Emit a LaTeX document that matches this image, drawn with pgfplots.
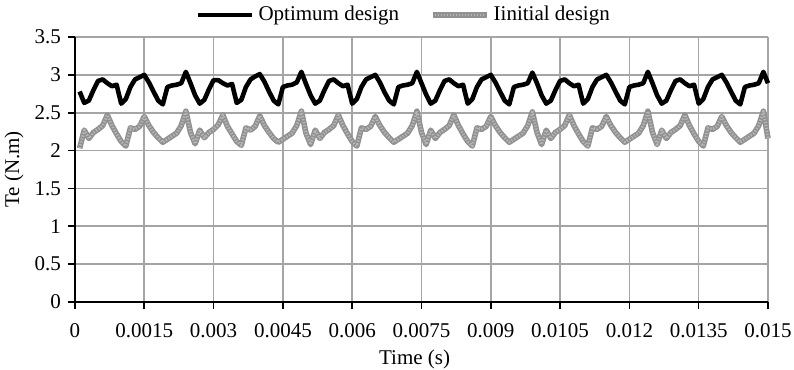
\documentclass[border=0pt]{standalone}
\usepackage{fontspec}
\setmainfont{Liberation Serif}
\usepackage{pgfplots}
\pgfplotsset{compat=1.18}
\definecolor{gridgray}{RGB}{165,165,165}
\definecolor{initgray}{RGB}{145,145,145}
\pgfplotstableread{
t v
0.0001 2.78
0.0002 2.63
0.0003 2.66
0.0004 2.80
0.0005 2.92
0.0006 2.94
0.0007 2.89
0.0008 2.85
0.0009 2.87
0.0010 2.62
0.0011 2.68
0.0012 2.84
0.0013 2.94
0.0014 2.97
0.0015 3.00
0.0016 2.90
0.0017 2.78
0.0018 2.66
0.0019 2.61
0.0020 2.84
0.0021 2.86
0.0022 2.87
0.0023 2.89
0.0024 3.04
0.0025 2.89
0.0026 2.73
0.0027 2.62
0.0028 2.67
0.0029 2.81
0.0030 2.93
0.0031 2.93
0.0032 2.89
0.0033 2.86
0.0034 2.88
0.0035 2.63
0.0036 2.67
0.0037 2.84
0.0038 2.94
0.0039 2.98
0.0040 3.01
0.0041 2.91
0.0042 2.78
0.0043 2.66
0.0044 2.61
0.0045 2.84
0.0046 2.86
0.0047 2.87
0.0048 2.90
0.0049 3.04
0.0050 2.88
0.0051 2.73
0.0052 2.62
0.0053 2.66
0.0054 2.80
0.0055 2.92
0.0056 2.94
0.0057 2.89
0.0058 2.85
0.0059 2.87
0.0060 2.62
0.0061 2.68
0.0062 2.84
0.0063 2.94
0.0064 2.97
0.0065 3.00
0.0066 2.90
0.0067 2.77
0.0068 2.66
0.0069 2.61
0.0070 2.84
0.0071 2.86
0.0072 2.87
0.0073 2.89
0.0074 3.04
0.0075 2.89
0.0076 2.74
0.0077 2.62
0.0078 2.66
0.0079 2.80
0.0080 2.92
0.0081 2.94
0.0082 2.89
0.0083 2.85
0.0084 2.87
0.0085 2.62
0.0086 2.68
0.0087 2.84
0.0088 2.94
0.0089 2.97
0.0090 3.00
0.0091 2.90
0.0092 2.78
0.0093 2.66
0.0094 2.61
0.0095 2.84
0.0096 2.86
0.0097 2.87
0.0098 2.89
0.0099 3.03
0.0100 2.89
0.0101 2.73
0.0102 2.62
0.0103 2.66
0.0104 2.80
0.0105 2.92
0.0106 2.94
0.0107 2.89
0.0108 2.85
0.0109 2.87
0.0110 2.62
0.0111 2.68
0.0112 2.84
0.0113 2.94
0.0114 2.97
0.0115 3.00
0.0116 2.90
0.0117 2.78
0.0118 2.66
0.0119 2.61
0.0120 2.84
0.0121 2.86
0.0122 2.87
0.0123 2.89
0.0124 3.04
0.0125 2.89
0.0126 2.73
0.0127 2.62
0.0128 2.66
0.0129 2.80
0.0130 2.92
0.0131 2.94
0.0132 2.89
0.0133 2.85
0.0134 2.87
0.0135 2.62
0.0136 2.68
0.0137 2.84
0.0138 2.94
0.0139 2.97
0.0140 3.00
0.0141 2.90
0.0142 2.78
0.0143 2.66
0.0144 2.61
0.0145 2.84
0.0146 2.86
0.0147 2.87
0.0148 2.89
0.0149 3.04
0.0150 2.89
}\optimum
\pgfplotstableread{
t v
0.0001 2.03
0.0002 2.27
0.0003 2.16
0.0004 2.24
0.0005 2.28
0.0006 2.33
0.0007 2.47
0.0008 2.33
0.0009 2.22
0.0010 2.12
0.0011 2.06
0.0012 2.30
0.0013 2.28
0.0014 2.32
0.0015 2.45
0.0016 2.33
0.0017 2.24
0.0018 2.17
0.0019 2.11
0.0020 2.15
0.0021 2.19
0.0022 2.23
0.0023 2.33
0.0024 2.52
0.0025 2.24
0.0026 2.09
0.0027 2.27
0.0028 2.17
0.0029 2.24
0.0030 2.28
0.0031 2.34
0.0032 2.47
0.0033 2.32
0.0034 2.22
0.0035 2.12
0.0036 2.07
0.0037 2.30
0.0038 2.27
0.0039 2.32
0.0040 2.46
0.0041 2.33
0.0042 2.24
0.0043 2.16
0.0044 2.11
0.0045 2.15
0.0046 2.19
0.0047 2.23
0.0048 2.33
0.0049 2.52
0.0050 2.23
0.0051 2.08
0.0052 2.27
0.0053 2.16
0.0054 2.24
0.0055 2.28
0.0056 2.33
0.0057 2.47
0.0058 2.33
0.0059 2.22
0.0060 2.12
0.0061 2.06
0.0062 2.30
0.0063 2.28
0.0064 2.32
0.0065 2.45
0.0066 2.33
0.0067 2.24
0.0068 2.17
0.0069 2.11
0.0070 2.15
0.0071 2.19
0.0072 2.23
0.0073 2.33
0.0074 2.52
0.0075 2.24
0.0076 2.08
0.0077 2.27
0.0078 2.16
0.0079 2.24
0.0080 2.28
0.0081 2.33
0.0082 2.47
0.0083 2.33
0.0084 2.22
0.0085 2.12
0.0086 2.06
0.0087 2.30
0.0088 2.28
0.0089 2.32
0.0090 2.45
0.0091 2.33
0.0092 2.24
0.0093 2.17
0.0094 2.11
0.0095 2.15
0.0096 2.19
0.0097 2.23
0.0098 2.33
0.0099 2.51
0.0100 2.24
0.0101 2.08
0.0102 2.27
0.0103 2.16
0.0104 2.24
0.0105 2.28
0.0106 2.33
0.0107 2.47
0.0108 2.33
0.0109 2.22
0.0110 2.12
0.0111 2.06
0.0112 2.30
0.0113 2.28
0.0114 2.32
0.0115 2.45
0.0116 2.33
0.0117 2.24
0.0118 2.17
0.0119 2.11
0.0120 2.15
0.0121 2.19
0.0122 2.23
0.0123 2.33
0.0124 2.52
0.0125 2.24
0.0126 2.08
0.0127 2.27
0.0128 2.16
0.0129 2.24
0.0130 2.28
0.0131 2.33
0.0132 2.47
0.0133 2.33
0.0134 2.22
0.0135 2.12
0.0136 2.06
0.0137 2.30
0.0138 2.28
0.0139 2.32
0.0140 2.45
0.0141 2.33
0.0142 2.24
0.0143 2.17
0.0144 2.11
0.0145 2.15
0.0146 2.19
0.0147 2.23
0.0148 2.33
0.0149 2.52
0.0150 2.16
}\initial
\begin{document}
\begin{tikzpicture}[font=\fontsize{10.5}{12.6}\selectfont]
\begin{axis}[
  scale only axis, width=346.5pt, height=132.5pt,
  xmin=0, xmax=0.015, ymin=0, ymax=3.5,
  axis x line=bottom, axis y line=left,
  axis line style={-, line width=1pt, black},
  xtick={0,0.0015,0.003,0.0045,0.006,0.0075,0.009,0.0105,0.012,0.0135,0.015},
  xticklabels={0,0.0015,0.003,0.0045,0.006,0.0075,0.009,0.0105,0.012,0.0135,0.015},
  ytick={0,0.5,1,1.5,2,2.5,3,3.5},
  yticklabels={0,0.5,1,1.5,2,2.5,3,3.5},
  scaled x ticks=false,
  /pgf/number format/assume math mode=true,
  grid=major, major grid style={gridgray, line width=0.8pt},
  tick align=outside, major tick length=3.5pt,
  tick style={black, line width=0.8pt},
  xticklabel style={yshift=-3.5pt},
  xlabel={Time (s)}, ylabel={Te (N.m)},
  x label style={at={(axis description cs:0.49,-0.218)}, anchor=center},
  y label style={at={(axis description cs:-0.088,0.5)}, anchor=center},
  legend style={at={(0.476,1)}, anchor=center, yshift=11pt, draw=none, fill=none,
    legend columns=2, /tikz/every even column/.append style={column sep=13.5pt}},
  legend cell align=left,
  legend image code/.code={\draw[#1] (0pt,0pt) -- (27pt,0pt);},
  clip=false,
]
\addplot[black, line width=2.3pt, line join=round] table[x=t,y=v] {\optimum};
\addlegendentry{Optimum design}
\addplot[initgray, line width=2.8pt, line join=round,
  legend image code/.code={\draw[initgray, line width=2.8pt] (0pt,0pt) -- (27pt,0pt);
    \draw[white, opacity=0.35, line width=1.4pt, dash pattern=on 0.6pt off 0.9pt] (1pt,0pt) -- (26pt,0pt);}]
  table[x=t,y=v] {\initial};
\addlegendentry{Iinitial design}
\addplot[white, opacity=0.35, line width=1.4pt, line join=round, dash pattern=on 0.6pt off 0.9pt, forget plot]
  table[x=t,y=v] {\initial};
\coordinate (bl) at (rel axis cs:0,0);
\coordinate (tr) at (rel axis cs:1,1);
\end{axis}
\pgfresetboundingbox
\path ([shift={(-37.5pt,-34pt)}]bl) rectangle ([shift={(13pt,18.5pt)}]tr);
\end{tikzpicture}
\end{document}
